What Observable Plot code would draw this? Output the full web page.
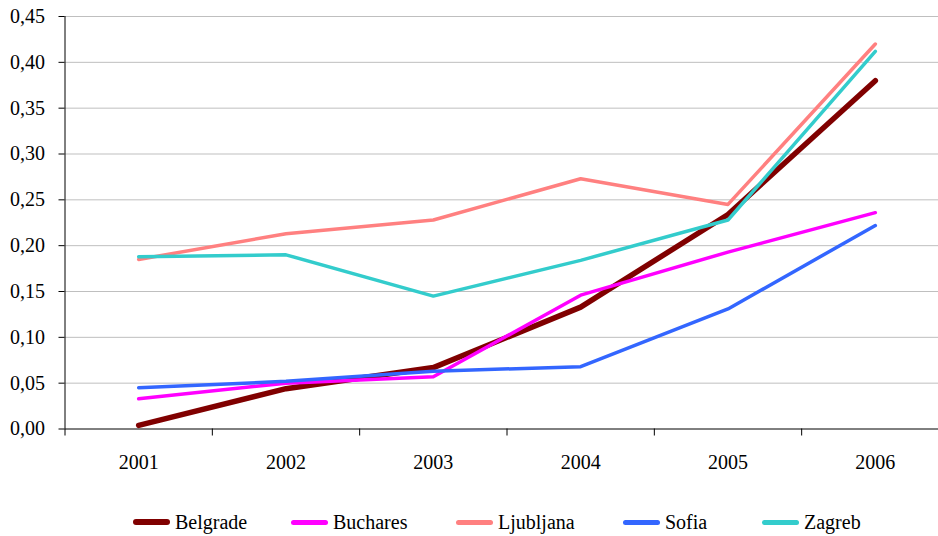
<!DOCTYPE html>
<html>
<head>
<meta charset="utf-8">
<script src="https://cdn.jsdelivr.net/npm/d3@7"></script>
<script src="https://cdn.jsdelivr.net/npm/@observablehq/plot@0.6"></script>
<style>
  html, body { margin: 0; padding: 0; background: #fff; overflow: hidden; }
  body { width: 938px; height: 536px; font-family: 'Liberation Serif', serif; }
  #chart svg { display: block; max-width: none; }
  #chart svg text { font-family: 'Liberation Serif', serif; }
  #legend { position: relative; height: 46px; margin-top: 9px; font-size: 20px; color: #000; }
  .item { position: absolute; top: 0; height: 46px; display: flex; align-items: center; white-space: nowrap; }
  .swatch { width: 37px; border-radius: 3px; margin-right: 5px; }
</style>
</head>
<body>
<div id="chart"></div>
<div id="legend"></div>
<script>
// Years on the horizontal axis
const years = [2001, 2002, 2003, 2004, 2005, 2006];
// City series
const cities = ["Belgrade", "Buchares", "Ljubljana", "Sofia", "Zagreb"];
const colors = ["#800000", "#FF00FF", "#FF8080", "#3366FF", "#33CCCC"];
const widths = [5.5, 3.5, 3.5, 3.5, 3.5];
// Values per city, 2001–2006
const belgrade  = [0.004, 0.044, 0.067, 0.133, 0.234, 0.380];
const buchares  = [0.033, 0.050, 0.057, 0.146, 0.193, 0.236];
const ljubljana = [0.185, 0.213, 0.228, 0.273, 0.245, 0.420];
const sofia     = [0.045, 0.052, 0.063, 0.068, 0.131, 0.222];
const zagreb    = [0.188, 0.190, 0.145, 0.184, 0.228, 0.412];
// Y axis ticks
const yTicks = [0, 0.05, 0.10, 0.15, 0.20, 0.25, 0.30, 0.35, 0.40, 0.45];

const series = [belgrade, buchares, ljubljana, sofia, zagreb];
const data = cities.flatMap((city, i) =>
  years.map((year, j) => ({city, year, value: series[i][j]}))
);
// Category boundaries for the bottom tick marks
const bounds = d3.range(years.length + 1).map(i => years[0] - 0.5 + i);
const fmt = d => d.toFixed(2).replace(".", ",");

const chart = Plot.plot({
  width: 938,
  height: 490,
  marginTop: 16,
  marginLeft: 64.5,
  marginRight: 0,
  marginBottom: 61.5,
  style: {fontFamily: "'Liberation Serif', serif", fontSize: "20px", color: "#000", background: "#fff", overflow: "hidden"},
  x: {type: "linear", domain: [bounds[0], bounds[bounds.length - 1]], range: [64.5, 948.5]},
  y: {domain: [0, 0.45]},
  color: {domain: cities, range: colors},
  marks: [
    Plot.gridY(yTicks.slice(1), {stroke: "#BFBFBF", strokeOpacity: 1, strokeWidth: 1}),
    Plot.axisY(yTicks, {tickFormat: fmt, tickSize: 6, tickPadding: 14, stroke: "#000", fontSize: 20, label: null}),
    Plot.axisX(years, {tickFormat: d => String(d), tickSize: 0, tickPadding: 26, fontSize: 20, label: null}),
    Plot.axisX(bounds, {tickFormat: () => "", tickSize: 7, stroke: "#000", label: null}),
    Plot.ruleY([0], {stroke: "#000", strokeWidth: 1}),
    Plot.ruleX([bounds[0]], {stroke: "#000", strokeWidth: 1}),
    ...cities.map((c, i) => Plot.line(data.filter(d => d.city === c), {
      x: "year", y: "value", stroke: colors[i], strokeWidth: widths[i],
      strokeLinejoin: "round", strokeLinecap: "round"
    }))
  ]
});
document.getElementById("chart").append(chart);

// Legend entries below the plot
const legendLeft = [133, 291, 456, 623, 762];
const legend = document.getElementById("legend");
cities.forEach((c, i) => {
  const item = document.createElement("div");
  item.className = "item";
  item.style.left = legendLeft[i] + "px";
  const sw = document.createElement("div");
  sw.className = "swatch";
  sw.style.background = colors[i];
  sw.style.height = (i === 0 ? 6 : 5) + "px";
  const t = document.createElement("span");
  t.textContent = c;
  item.append(sw, t);
  legend.append(item);
});
</script>
</body>
</html>
